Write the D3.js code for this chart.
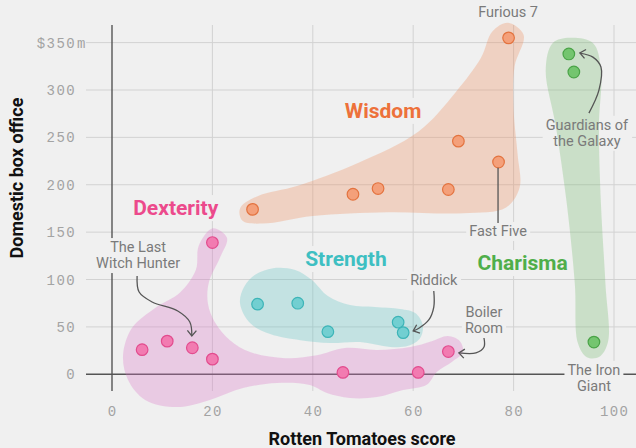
<!DOCTYPE html>
<html>
<head>
<meta charset="utf-8">
<script src="https://cdn.jsdelivr.net/npm/d3@7"></script>
<style>
  html, body { margin: 0; padding: 0; background: #f0f0f0; }
  svg { display: block; }
</style>
</head>
<body>
<svg id="chart" width="636" height="448"></svg>
<script>
// Rotten Tomatoes score vs domestic box office, grouped by "stat"
const xTicks = [0, 20, 40, 60, 80, 100];
const yTicks = [0, 50, 100, 150, 200, 250, 300, 350];

const groups = ["Wisdom", "Dexterity", "Strength", "Charisma"];

// [score, box office $m]
const wisdomMovies = [[79, 355], [28, 174], [48, 190], [53, 196], [67, 195], [69, 246], [77, 224]];
const dexterityMovies = [[20, 139], [6, 26], [11, 35], [16, 28], [20, 16], [46, 2], [61, 2], [67, 24]];
const strengthMovies = [[29, 74], [37, 75], [43, 45], [57, 55], [58, 44]];
const charismaMovies = [[91, 338], [92, 319], [96, 34]];

// hand-drawn blob outlines, in data units
const wisdomBlob = [[78.9, 371], [82, 358], [80.2, 325], [80, 280], [80.8, 232], [81.2, 197], [78.5, 176],
  [70, 170], [55, 171], [40, 167], [30, 159], [26, 162], [25.5, 175], [29, 188], [37, 199], [49, 223],
  [61, 256], [68.5, 298], [73.5, 334], [75.8, 362]];
const dexterityBlob = [[20.1, 154], [22.9, 144], [21.5, 123], [19.3, 97], [19.1, 75], [20.5, 55], [23.5, 36],
  [27.5, 23.5], [34.5, 17], [40.8, 20], [46.4, 27.7], [52.8, 25.6], [59.4, 28.8], [63.7, 35], [66.9, 40.4],
  [69.3, 35], [69.9, 23.5], [67.7, 13], [64.7, 2.4], [62.7, -11], [58, -16.6], [52.8, -24], [47.4, -25],
  [42.8, -19.7], [39.4, -11.3], [32.9, -9.2], [26.1, -14.5], [19.5, -27], [12.9, -34.6], [6.6, -27],
  [3.2, -6], [2.2, 20], [4, 49], [8.6, 70], [13.5, 86], [16.7, 110], [17.3, 136]];
const strengthBlob = [[25.5, 75], [26.3, 92], [28.5, 105], [32.1, 112], [36.5, 110], [39.8, 99.5], [43, 82.6],
  [47.4, 73], [52.4, 71], [57.4, 69], [60.4, 64.7], [61.9, 52], [61.4, 38.3], [59, 30], [55.4, 28.8],
  [49.4, 34], [43.4, 33], [37.5, 36], [31.5, 42.5], [27.5, 54]];
const charismaBlob = [[91.2, 355], [95.8, 349.5], [97.4, 322], [97, 262], [97.4, 180], [98.3, 95], [98.8, 34],
  [97.1, 18.5], [94.6, 18], [92.8, 33], [92.2, 95], [90.6, 180], [88.4, 262], [86.4, 322], [87.8, 349.5]];

const movies = [wisdomMovies, dexterityMovies, strengthMovies, charismaMovies];
const blobs = [wisdomBlob, dexterityBlob, strengthBlob, charismaBlob];

// name labels and annotations
const groupLabelAt = [[54, 270.5], [12.7, 168], [46.6, 114.2], [81.8, 110]];
const notes = [
  { lines: ["Furious 7"], at: [78.9, 376.5] },
  { lines: ["The Last", "Witch Hunter"], at: [5.2, 129] },
  { lines: ["Fast Five"], at: [76.9, 146] },
  { lines: ["Guardians of", "the Galaxy"], at: [94.6, 258] },
  { lines: ["Riddick"], at: [64.1, 93.7] },
  { lines: ["Boiler", "Room"], at: [74.1, 60.4] },
  { lines: ["The Iron", "Giant"], at: [96, -0.6] }
];
const arrows = [
  [[5.0, 103.7], [5.4, 86.8], [8.0, 76.3], [13.1, 66.8], [15.5, 55.2], [15.9, 40.4]],
  [[64.1, 87.9], [64.1, 71], [63.1, 57.3], [61.2, 48.8], [60, 45.7]],
  [[74.1, 38.3], [74.1, 28.8], [72.5, 22.5], [69.1, 22.5]],
  [[95, 275.6], [97, 299.9], [97.4, 324.2], [95.8, 334.7], [93.2, 339]]
];
const fastFiveLine = [[76.9, 218], [76.9, 159.6]];

const colors = {
  text: ["#ed713a", "#ec4a8c", "#3ebfc2", "#4fae4a"],
  blob: ["#f08a5a", "#dc73c6", "#5cc2c4", "#74bb6c"],
  fill: ["#f4a07a", "#f27bb1", "#72cfd1", "#74c56f"],
  stroke: ["#e3733f", "#e24c8e", "#3db4b7", "#4aa347"]
};

const svg = d3.select("#chart");
const x = d3.scaleLinear().domain([0, 100]).range([112, 614]);
const y = d3.scaleLinear().domain([0, 350]).range([374.3, 42.6]);

const gGrid = svg.append("g");
const gBg = svg.append("g");
const gBlobs = svg.append("g");
const gMarks = svg.append("g");
const gText = svg.append("g");

// grid
gGrid.selectAll(".hgrid").data(yTicks.filter(d => d !== 0)).enter().append("line")
  .attr("x1", 86).attr("x2", 636)
  .attr("y1", d => y(d)).attr("y2", d => y(d))
  .attr("stroke", "#d2d2d2").attr("stroke-width", 1);
gGrid.selectAll(".vgrid").data(xTicks.filter(d => d !== 0)).enter().append("line")
  .attr("x1", d => x(d)).attr("x2", d => x(d))
  .attr("y1", 25).attr("y2", 391)
  .attr("stroke", "#d2d2d2").attr("stroke-width", 1);
gGrid.append("line").attr("x1", 86).attr("x2", 636).attr("y1", y(0)).attr("y2", y(0))
  .attr("stroke", "#555").attr("stroke-width", 1.4);
gGrid.append("line").attr("x1", x(0)).attr("x2", x(0)).attr("y1", 25).attr("y2", 391)
  .attr("stroke", "#555").attr("stroke-width", 1.4);

// tick labels
const tickFont = "'Liberation Mono', 'DejaVu Sans Mono', monospace";
gText.selectAll(".ytick").data(yTicks).enter().append("text")
  .attr("x", 76).attr("y", d => y(d)).attr("dy", "0.36em")
  .attr("text-anchor", "end")
  .style("font-family", tickFont).style("font-size", "14px").style("letter-spacing", "1.4px")
  .attr("fill", "#a3a3a3")
  .text(d => d === 350 ? "$" + d : d);
gText.append("text").attr("x", 77).attr("y", y(350)).attr("dy", "0.36em")
  .style("font-family", tickFont).style("font-size", "14px").attr("fill", "#a3a3a3").text("m");
gText.selectAll(".xtick").data(xTicks).enter().append("text")
  .attr("x", d => x(d) + 0.7).attr("y", 416)
  .attr("text-anchor", "middle")
  .style("font-family", tickFont).style("font-size", "14px").style("letter-spacing", "1.4px")
  .attr("fill", "#a3a3a3")
  .text(d => d);

// axis titles
gText.append("text").attr("x", 362).attr("y", 445).attr("text-anchor", "middle")
  .style("font-family", "Roboto, sans-serif").style("font-weight", "700").style("font-size", "18px")
  .attr("fill", "#111").text("Rotten Tomatoes score");
gText.append("text").attr("transform", "translate(23,178) rotate(-90)").attr("text-anchor", "middle")
  .style("font-family", "Roboto, sans-serif").style("font-weight", "700").style("font-size", "18px")
  .attr("fill", "#111").text("Domestic box office");

// blobs
const blobLine = d3.line().x(d => x(d[0])).y(d => y(d[1])).curve(d3.curveCatmullRomClosed.alpha(0.5));
gBlobs.selectAll("path").data(blobs).enter().append("path")
  .attr("d", d => blobLine(d))
  .attr("fill", (d, i) => colors.blob[i])
  .attr("fill-opacity", 0.3);

// points
movies.forEach((list, i) => {
  gMarks.selectAll(".pt" + i).data(list).enter().append("circle")
    .attr("cx", d => x(d[0])).attr("cy", d => y(d[1])).attr("r", 5.8)
    .attr("fill", colors.fill[i]).attr("stroke", colors.stroke[i]).attr("stroke-width", 1.2);
});

// arrows
svg.append("defs").append("marker")
  .attr("id", "head").attr("viewBox", "-8 -6 10 12")
  .attr("markerWidth", 10).attr("markerHeight", 12)
  .attr("markerUnits", "userSpaceOnUse").attr("orient", "auto")
  .append("path").attr("d", "M-5.5,-4.5L0,0L-5.5,4.5")
  .attr("fill", "none").attr("stroke", "#555").attr("stroke-width", 1.3);
const arrowLine = d3.line().x(d => x(d[0])).y(d => y(d[1])).curve(d3.curveCatmullRom.alpha(0.5));
gMarks.selectAll(".arrow").data(arrows).enter().append("path")
  .attr("d", d => arrowLine(d))
  .attr("fill", "none").attr("stroke", "#555").attr("stroke-width", 1.3)
  .attr("marker-end", "url(#head)");
gMarks.append("path").attr("d", d3.line().x(d => x(d[0])).y(d => y(d[1]))(fastFiveLine))
  .attr("stroke", "#555").attr("stroke-width", 1.3);

// text with a background patch that breaks the grid lines
function addLabel(lines, at, style) {
  const t = gText.append("text")
    .attr("x", x(at[0])).attr("y", y(at[1]))
    .attr("text-anchor", "middle")
    .style("font-family", style.family).style("font-size", style.size).style("font-weight", style.weight)
    .attr("fill", style.color);
  lines.forEach((s, k) => {
    t.append("tspan").attr("x", x(at[0])).attr("dy", k === 0 ? 0 : style.lead).text(s);
  });
  const b = t.node().getBBox();
  gBg.append("rect")
    .attr("x", b.x - 3).attr("y", b.y - 1).attr("width", b.width + 6).attr("height", b.height + 2)
    .attr("fill", "#f0f0f0");
}

groups.forEach((g, i) => addLabel([g], groupLabelAt[i], {
  family: "Roboto, sans-serif", size: "21px", weight: "700", color: colors.text[i], lead: 0
}));
notes.forEach(n => addLabel(n.lines, n.at, {
  family: "Roboto, sans-serif", size: "14.5px", weight: "400", color: "#7a7a7a", lead: 16
}));
</script>
</body>
</html>
